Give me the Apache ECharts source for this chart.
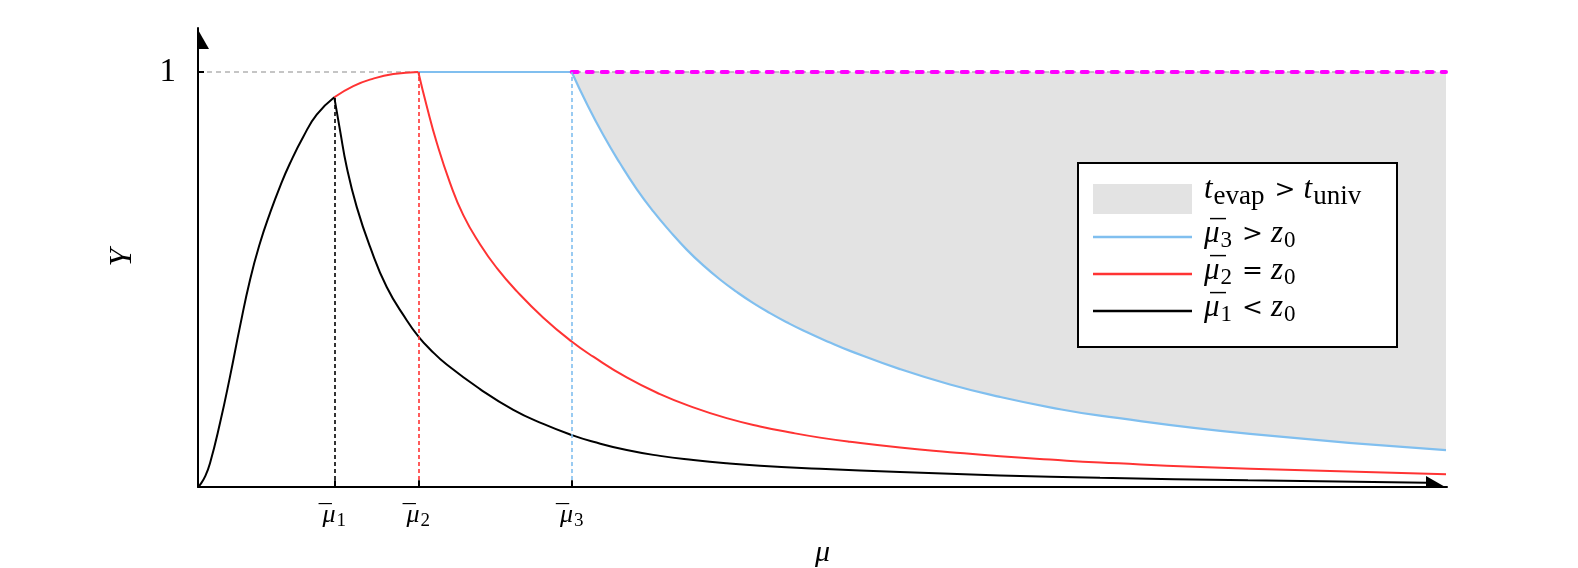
<!DOCTYPE html>
<html lang="en">
<head>
    <meta charset="UTF-8">
    <title>Y vs mu</title>
    <script src="https://cdn.jsdelivr.net/npm/echarts@6/dist/echarts.min.js"></script>
    <style>
        html, body { margin: 0; padding: 0; background: #fff; }
    </style>
</head>
<body>
    <div id="main" style="width: 1578px;height: 568px;"></div>
    <script type="text/javascript">
        // x in arbitrary mu units, y = Y
        var mu1 = 1.363, mu2 = 2.203, mu3 = 3.737;
        var xMax = 12.49, yMax = 1.106;

        var blackRiseX = [0, 0.02, 0.07, 0.12, 0.22, 0.32, 0.42, 0.52, 0.62, 0.72, 0.82, 0.92, 1.053, 1.187, 1.363];
        var blackRiseY = [0, 0.005, 0.025, 0.057, 0.154, 0.266, 0.387, 0.499, 0.588, 0.660, 0.724, 0.780, 0.844, 0.897, 0.939];
        var blackFallX = [1.363, 1.42, 1.487, 1.587, 1.72, 1.887, 2.087, 2.207, 2.32, 2.487, 2.82, 3.153, 3.453, 3.74, 3.953, 4.287, 4.62, 4.953, 5.287, 5.62, 6.22, 7.02, 8.02, 9.02, 10.5, 12.29];
        var blackFallY = [0.939, 0.860, 0.771, 0.675, 0.579, 0.482, 0.402, 0.362, 0.332, 0.295, 0.236, 0.186, 0.152, 0.125, 0.109, 0.089, 0.075, 0.065, 0.057, 0.051, 0.044, 0.036, 0.028, 0.022, 0.016, 0.010];

        var redRiseX = [1.363, 1.553, 1.753, 1.953, 2.203];
        var redRiseY = [0.939, 0.966, 0.984, 0.995, 1.0];
        var redFallX = [2.203, 2.287, 2.387, 2.52, 2.653, 2.82, 2.987, 3.187, 3.453, 3.74, 3.953, 4.287, 4.62, 4.953, 5.287, 5.62, 5.953, 6.22, 6.52, 7.02, 7.52, 8.02, 8.52, 9.02, 10.52, 12.48];
        var redFallY = [1.0, 0.918, 0.830, 0.733, 0.655, 0.585, 0.528, 0.472, 0.408, 0.350, 0.314, 0.264, 0.224, 0.192, 0.166, 0.146, 0.130, 0.119, 0.109, 0.095, 0.084, 0.074, 0.066, 0.059, 0.044, 0.031];

        var blueFlatX = [2.203, 3.737];
        var blueFlatY = [1.0, 1.0];
        var blueFallX = [3.737, 3.887, 4.053, 4.22, 4.387, 4.553, 4.72, 4.887, 5.053, 5.22, 5.387, 5.553, 5.72, 5.887, 6.053, 6.32, 6.52, 7.02, 7.52, 8.02, 8.52, 9.02, 10.52, 12.48];
        var blueFallY = [1.0, 0.924, 0.848, 0.780, 0.718, 0.664, 0.616, 0.572, 0.534, 0.500, 0.470, 0.443, 0.419, 0.397, 0.377, 0.348, 0.328, 0.284, 0.247, 0.217, 0.192, 0.172, 0.128, 0.089];

        var unitLineX = [0, 12.48];
        var unitLineY = [1, 1];
        var limitX = [3.737, 12.48];
        var limitY = [1, 1];

        var BLUE = '#80bfef', RED = '#ff3333', BLACK = '#000', MAGENTA = '#ff00ff', FILL = '#e3e3e3';
        var SERIF = 'Liberation Serif';

        function pairs(xs, ys) {
            return xs.map(function (x, i) { return [x, ys[i]]; });
        }

        function curve(xs, ys, color, width, extra) {
            var s = {
                type: 'line',
                data: pairs(xs, ys),
                showSymbol: false,
                smooth: 0.5,
                silent: true,
                lineStyle: { color: color, width: width },
                itemStyle: { color: color },
                z: 3
            };
            for (var k in extra) s[k] = extra[k];
            return s;
        }

        // bar drawn as a zero-width token so it sits over the mu
        var tickRich = {
            b: { fontFamily: SERIF, fontSize: 26, color: '#000', width: 0 },
            m: { fontFamily: SERIF, fontStyle: 'italic', fontSize: 26, color: '#000' },
            s: { fontFamily: SERIF, fontSize: 19, color: '#000', padding: [13, 0, 0, 1] }
        };

        function muBar(idx) {
            return '{b|\u2009\u00af}{m|\u03bc}{s|' + idx + '}';
        }

        function guide(x, y, color, idx) {
            return {
                symbol: ['none', 'none'],
                silent: true,
                lineStyle: { color: color, type: [4, 3], width: 1.6 },
                label: {
                    show: true,
                    position: 'start',
                    distance: 12,
                    formatter: muBar(idx),
                    rich: tickRich
                },
                data: [
                    [{ coord: [x, 0] }, { coord: [x, y] }],
                    [{ coord: [x, 0], lineStyle: { type: 'solid', color: '#000', width: 2 }, label: { show: false } }, { coord: [x, 0.016] }]
                ]
            };
        }

        var myChart = echarts.init(document.getElementById('main'));
        myChart.setOption({
            animation: false,
            grid: { left: 198, right: 131, top: 28, bottom: 81, outerBoundsMode: 'none' },
            xAxis: {
                type: 'value',
                min: 0,
                max: xMax,
                z: 5,
                name: '\u03bc',
                nameLocation: 'middle',
                nameGap: 51,
                nameTextStyle: { fontFamily: SERIF, fontStyle: 'italic', fontSize: 30, color: '#000' },
                axisLine: { lineStyle: { color: '#000', width: 2 } },
                axisTick: { show: false },
                axisLabel: { show: false },
                splitLine: { show: false }
            },
            yAxis: {
                type: 'value',
                min: 0,
                max: yMax,
                interval: 1,
                z: 5,
                name: 'Y',
                nameLocation: 'middle',
                nameRotate: 90,
                nameGap: 59,
                nameTextStyle: { fontFamily: SERIF, fontStyle: 'italic', fontSize: 32, color: '#000' },
                axisLine: { show: true, lineStyle: { color: '#000', width: 2 } },
                axisTick: { show: false },
                axisLabel: {
                    margin: 22,
                    fontFamily: SERIF,
                    fontSize: 33,
                    color: '#000',
                    formatter: function (v) { return v === 1 ? '1' : ''; }
                },
                splitLine: { show: false }
            },
            series: [
                // grey region above the blue curve: grey block, then white under the curve
                curve(limitX, limitY, FILL, 0, { smooth: false, z: 1, lineStyle: { opacity: 0 }, areaStyle: { color: FILL, opacity: 1 } }),
                curve(blueFallX, blueFallY, '#fff', 0, { z: 1, lineStyle: { opacity: 0 }, areaStyle: { color: '#fff', opacity: 1 } }),
                curve(unitLineX, unitLineY, '#b3b3b3', 1.5, {
                    smooth: false, z: 2, lineStyle: { color: '#b3b3b3', width: 1.5, type: [5, 4] },
                    markLine: {
                        symbol: ['none', 'none'], silent: true, label: { show: false },
                        lineStyle: { type: 'solid', color: '#000', width: 2 },
                        data: [[{ coord: [0, 1] }, { coord: [0.06, 1] }]]
                    }
                }),
                curve(blackRiseX, blackRiseY, BLACK, 2),
                curve(blackFallX, blackFallY, BLACK, 2, { markLine: guide(mu1, blackRiseY[blackRiseY.length - 1], BLACK, 1) }),
                curve(redRiseX, redRiseY, RED, 2),
                curve(redFallX, redFallY, RED, 2, { markLine: guide(mu2, 1, RED, 2) }),
                curve(blueFlatX, blueFlatY, BLUE, 2.2, { smooth: false }),
                curve(blueFallX, blueFallY, BLUE, 2.2, { markLine: guide(mu3, 1, BLUE, 3) }),
                curve(limitX, limitY, MAGENTA, 4, { smooth: false, z: 4, lineStyle: { color: MAGENTA, width: 4, type: [6, 9], cap: 'round' } })
            ]
        });

        // half arrow heads on the axes and the hand-made legend
        var o = myChart.convertToPixel({ gridIndex: 0 }, [0, 0]);
        var xe = myChart.convertToPixel({ gridIndex: 0 }, [xMax, 0]);
        var ye = myChart.convertToPixel({ gridIndex: 0 }, [0, yMax]);

        var legRich = {
            b: { fontFamily: SERIF, fontSize: 31, color: '#000', width: 0 },
            i: { fontFamily: SERIF, fontStyle: 'italic', fontSize: 31, color: '#000' },
            r: { fontFamily: 'DejaVu Serif', fontSize: 25, color: '#000', padding: [0, 8, 0, 10] },
            w: { fontFamily: SERIF, fontSize: 27, color: '#000', padding: [14, 0, 0, 1] },
            d: { fontFamily: SERIF, fontSize: 23, color: '#000', padding: [14, 0, 0, 1] }
        };
        function legMu(idx) {
            return '{b|\u2009\u00af}{i|\u03bc}{d|' + idx + '}';
        }
        var lx = 1078, ly = 163;
        var legendRows = [
            { y: 237, color: BLUE, text: legMu(3) + '{r|>}{i|z}{d|0}' },
            { y: 274, color: RED, text: legMu(2) + '{r|=}{i|z}{d|0}' },
            { y: 311, color: BLACK, text: legMu(1) + '{r|<}{i|z}{d|0}' }
        ];
        var graphics = [
            { type: 'polygon', shape: { points: [[o[0] - 1, ye[1]], [o[0] + 11, ye[1] + 21], [o[0] - 1, ye[1] + 21]] }, style: { fill: '#000' }, z: 50 },
            { type: 'polygon', shape: { points: [[xe[0], o[1] + 1], [xe[0] - 21, o[1] - 11], [xe[0] - 21, o[1] + 1]] }, style: { fill: '#000' }, z: 50 },
            { type: 'rect', shape: { x: lx, y: ly, width: 319, height: 184 }, style: { fill: '#fff', stroke: '#000', lineWidth: 2 }, z: 100 },
            { type: 'rect', shape: { x: 1093, y: 184, width: 99, height: 30 }, style: { fill: FILL }, z: 101 },
            { type: 'text', x: 1204, y: 190, style: { text: '{i|t}{w|evap}{r|>}{i|t}{w|univ}', rich: legRich, verticalAlign: 'middle' }, z: 101 }
        ];
        legendRows.forEach(function (r) {
            graphics.push({ type: 'line', shape: { x1: 1093, y1: r.y, x2: 1192, y2: r.y }, style: { stroke: r.color, lineWidth: 2.5 }, z: 101 });
            graphics.push({ type: 'text', x: 1204, y: r.y - 3, style: { text: r.text, rich: legRich, verticalAlign: 'middle' }, z: 101 });
        });
        myChart.setOption({ graphic: graphics });
    </script>
</body>
</html>
